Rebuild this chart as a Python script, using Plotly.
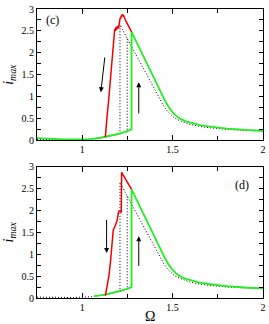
import plotly.graph_objects as go
from plotly.subplots import make_subplots

# ---- data ----
green_low_c_x = [0.75, 0.8, 0.9, 1.0, 1.05, 1.1, 1.15, 1.2, 1.25, 1.273]
green_low_c_y = [0.05, 0.04, 0.025, 0.02, 0.03, 0.06, 0.10, 0.15, 0.21, 0.25]
green_low_d_x = [1.066, 1.1, 1.15, 1.2, 1.25, 1.273]
green_low_d_y = [0.045, 0.06, 0.10, 0.15, 0.21, 0.25]
green_up_x = [1.273, 1.3, 1.35, 1.4, 1.44, 1.46, 1.48, 1.50, 1.52, 1.54, 1.57, 1.6, 1.65, 1.7, 1.8, 1.9, 2.0]
green_up_y = [2.48, 2.25, 1.82, 1.39, 1.05, 0.89, 0.75, 0.64, 0.56, 0.50, 0.44, 0.40, 0.35, 0.32, 0.27, 0.24, 0.22]

dot_low_x = [0.75, 0.85, 0.95, 1.0, 1.05, 1.1, 1.15, 1.2, 1.249, 1.249]
dot_low_y = [0.02, 0.01, 0.01, 0.02, 0.03, 0.06, 0.09, 0.14, 0.20, 2.33]
dot_up_x = [1.209, 1.209, 1.25, 1.3, 1.35, 1.4, 1.43, 1.45, 1.47, 1.49, 1.51, 1.54, 1.57, 1.6, 1.65, 1.7, 1.8, 1.9, 2.0]
dot_up_y = [0.14, 2.64, 2.32, 1.93, 1.54, 1.15, 0.93, 0.79, 0.67, 0.58, 0.51, 0.45, 0.40, 0.36, 0.32, 0.29, 0.25, 0.23, 0.21]

red_c_x = [1.128, 1.130, 1.134, 1.139, 1.145, 1.150, 1.155, 1.160, 1.165, 1.170, 1.175, 1.178, 1.180,
           1.183, 1.186, 1.189, 1.192, 1.195, 1.198, 1.201, 1.204, 1.207, 1.210, 1.213, 1.216, 1.219,
           1.222, 1.225, 1.228, 1.232, 1.238, 1.245, 1.255, 1.265, 1.273]
red_c_y = [0.07, 0.22, 0.35, 0.62, 0.85, 1.10, 1.30, 1.50, 1.75, 1.95, 2.20, 2.40, 2.55,
           2.50, 2.58, 2.52, 2.60, 2.55, 2.62, 2.56, 2.65, 2.70, 2.80, 2.78, 2.85, 2.83,
           2.88, 2.84, 2.86, 2.80, 2.76, 2.70, 2.61, 2.53, 2.48]
red_d_x = [1.128, 1.131, 1.139, 1.148, 1.157, 1.163, 1.170, 1.172, 1.178, 1.185, 1.194, 1.200,
           1.203, 1.212, 1.216, 1.218, 1.245, 1.273]
red_d_y = [0.05, 0.12, 0.29, 0.51, 0.85, 1.10, 1.50, 1.56, 1.60, 1.68, 1.78, 1.95,
           1.98, 1.98, 1.95, 2.87, 2.67, 2.48]

x_tickvals = [1, 1.5, 2]
x_ticktext = ["1", "1.5", "2"]
y_tickvals = [0, 0.5, 1, 1.5, 2, 2.5, 3]
y_ticktext = ["0", "0.5", "1", "1.5", "2", "2.5", "3"]
panel_labels = ["(c)", "(d)"]

SERIF = "Liberation Serif"

fig = make_subplots(rows=2, cols=1, vertical_spacing=0.09)

GREEN = "#22ee22"
RED = "#ee0000"
DOT = "1px,2px"

def add_panel(row, gx, gy, rx, ry):
    fig.add_trace(go.Scatter(x=dot_low_x, y=dot_low_y, mode="lines",
                             line=dict(color="black", width=1, dash=DOT)), row=row, col=1)
    fig.add_trace(go.Scatter(x=dot_up_x, y=dot_up_y, mode="lines",
                             line=dict(color="black", width=1, dash=DOT)), row=row, col=1)
    fig.add_trace(go.Scatter(x=gx + green_up_x, y=gy + green_up_y, mode="lines",
                             line=dict(color=GREEN, width=1.8)), row=row, col=1)
    fig.add_trace(go.Scatter(x=rx, y=ry, mode="lines",
                             line=dict(color=RED, width=1.5)), row=row, col=1)

add_panel(1, green_low_c_x, green_low_c_y, red_c_x, red_c_y)
add_panel(2, green_low_d_x, green_low_d_y, red_d_x, red_d_y)

font = dict(family=SERIF, size=10, color="black")

for r in (1, 2):
    fig.update_xaxes(range=[0.75, 2.0001], tickmode="array", tickvals=x_tickvals, ticktext=x_ticktext,
                     ticks="inside", ticklen=5, tickcolor="black",
                     showline=True, linecolor="black", linewidth=1, mirror="allticks",
                     showgrid=False, zeroline=False, tickfont=font,
                     minor=dict(tickmode="array", tickvals=[0.75, 1.25, 1.75],
                                ticks="inside", ticklen=4, tickcolor="black"),
                     row=r, col=1)
    fig.update_yaxes(range=[0, 3.0001], tickmode="array", tickvals=y_tickvals, ticktext=y_ticktext,
                     ticks="inside", ticklen=4, tickcolor="black",
                     showline=True, linecolor="black", linewidth=1, mirror="allticks",
                     showgrid=False, zeroline=False, tickfont=font,
                     minor=dict(dtick=0.25, ticks="inside", ticklen=4, tickcolor="black"),
                     title=dict(text="<i>i</i><sub><i>max</i></sub>",
                                font=dict(family=SERIF, size=14, color="black"), standoff=4),
                     row=r, col=1)

fig.update_layout(
    width=269, height=324,
    margin=dict(l=37, r=4, t=4, b=26),
    paper_bgcolor="white", plot_bgcolor="white",
    showlegend=False,
    font=dict(family=SERIF, color="black"),
)
fig.layout.yaxis.domain = [0.5454, 1.0]
fig.layout.yaxis2.domain = [0.0, 0.4546]

fig.add_annotation(x=0.5, y=-0.065, xref="x2 domain", yref="paper", yanchor="middle",
                   text="Ω", showarrow=False, font=dict(family=SERIF, size=14, color="black"))

lab_font = dict(family=SERIF, size=12, color="black")
fig.add_annotation(x=0.835, y=2.76, xref="x", yref="y", text=panel_labels[0], showarrow=False, font=lab_font)
fig.add_annotation(x=1.885, y=2.59, xref="x2", yref="y2", text=panel_labels[1], showarrow=False, font=lab_font)

arr = dict(showarrow=True, arrowhead=2, arrowsize=1, arrowwidth=1, arrowcolor="black", text="")
fig.add_annotation(x=1.103, y=1.10, ax=1.126, ay=1.93, xref="x", yref="y", axref="x", ayref="y", **arr)
fig.add_annotation(x=1.313, y=1.33, ax=1.313, ay=0.58, xref="x", yref="y", axref="x", ayref="y", **arr)
fig.add_annotation(x=1.135, y=1.03, ax=1.135, ay=1.82, xref="x2", yref="y2", axref="x2", ayref="y2", **arr)
fig.add_annotation(x=1.313, y=1.41, ax=1.313, ay=0.70, xref="x2", yref="y2", axref="x2", ayref="y2", **arr)

fig.write_html("out.html", config={"displayModeBar": False},
               post_script="document.body.style.margin='0';document.body.style.padding='0';")
